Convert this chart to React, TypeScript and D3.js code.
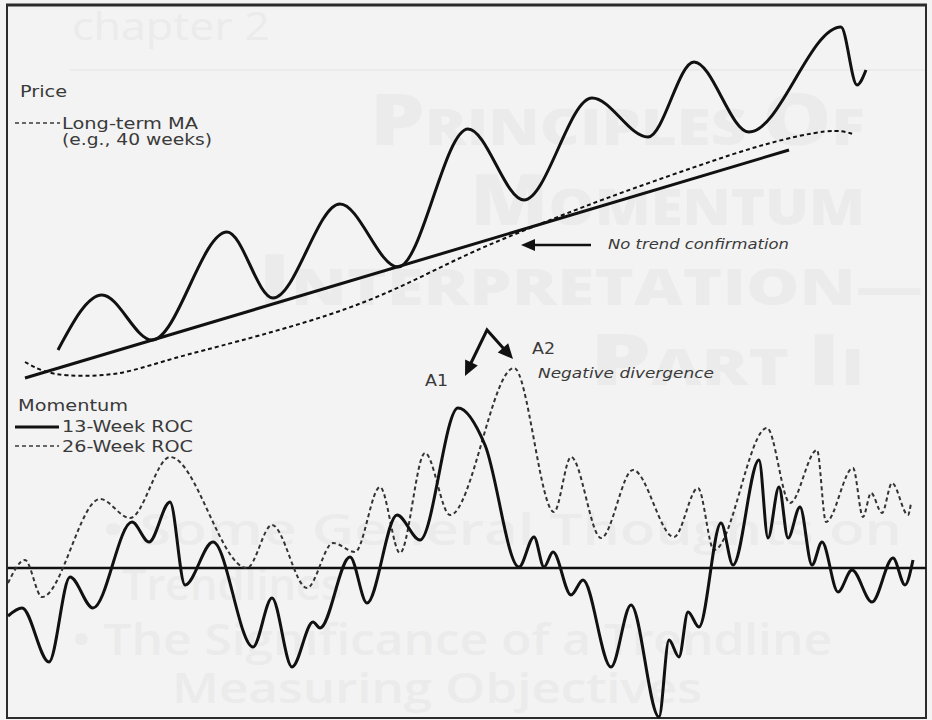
import React from "react";
import * as d3 from "d3";

// ---- Data (x in weeks, price in price units, momentum in % ROC) ----
const priceWeeks = [10, 18.8, 28.8, 43.8, 53, 66.4, 78, 92, 103.2, 116.8, 128, 137.2, 148.2, 166.6, 169.8, 171.6];
const priceValues = [12.5, 26.25, 15, 42, 25.5, 49, 33.25, 67.75, 50, 75.5, 65.75, 84.5, 67, 93.25, 78.75, 82.5];

const trendWeeks = [3.4, 156.2];
const trendValues = [5.5, 62.5];

const maWeeks = [3.4, 7, 11.8, 18.4, 24.4, 33, 45, 65, 78.4, 91.6, 104.4, 118.4, 138.4, 151.6, 165, 169];
const maValues = [9.5, 7, 6, 6, 7, 10.5, 14.25, 21.25, 28, 36.5, 43, 50, 58.75, 64.25, 68, 66.5];

const roc13Weeks = [0, 2.8, 8.2, 12.4, 17, 24.8, 28.2, 32.4, 35.4, 41, 49, 52.8, 56.8, 61, 62.4, 68.4, 71.8, 77.8, 82.4, 90, 95.4, 102.2, 105.2, 107.2, 109, 112.6, 115, 120.6, 124.6, 130.2, 132.2, 134.2, 136, 138.2, 142.6, 145, 150.2, 152, 154.2, 156, 158.4, 160.8, 162.8, 166, 168.8, 172.8, 177, 179.4, 181];
const roc13Values = [-9.6, -8, -18.8, -1.8, -8, 9.2, 5.2, 13.2, -3.4, 5.2, -15.8, -6, -19.8, -10.8, -12, 2.2, -7, 10.6, 5.6, 32, 24.6, 0.2, 6.2, 0.2, 3.2, -5.4, -2.4, -19.8, -7.4, -29.8, -14.4, -17.8, -8.8, -11.8, 9, 0.6, 21.6, 6, 16.2, 6, 12.2, 0.6, 5.2, -4.8, -0.4, -6.8, 2, -3.4, 1.6];

const roc26Weeks = [0, 3.4, 6.8, 18.4, 24.4, 32.4, 47.8, 52.8, 59.8, 65, 69.4, 74.4, 78.4, 83.4, 88.4, 101.2, 109.2, 112.6, 118.6, 125, 133.2, 138, 141.2, 151.8, 156.4, 161.8, 163.6, 169, 171, 172.6, 174.8, 176.8, 180, 180.6];
const roc26Values = [-3, 1.6, -5.8, 13.8, 10, 22.2, 0, 8.6, -4, 5, 3.2, 16.2, 3, 23, 10.6, 40, 11.2, 22.2, 6, 19.6, 6.2, 16, 3.6, 28, 13, 23.6, 9.2, 20, 10.2, 15, 11, 17, 10.6, 13];

const legendPrice = ["Price", "Long-term MA", "(e.g., 40 weeks)"];
const legendMomentum = ["Momentum", "13-Week ROC", "26-Week ROC"];

const W = 932;
const H = 720;

const zip = (xs: number[], ys: number[]) => xs.map((x, i) => [x, ys[i]] as [number, number]);

function arrowHead(tx: number, ty: number, fx: number, fy: number, len: number, hw: number) {
  const dx = tx - fx, dy = ty - fy;
  const d = Math.sqrt(dx * dx + dy * dy);
  const ux = dx / d, uy = dy / d;
  const bx = tx - ux * len, by = ty - uy * len;
  const px = -uy, py = ux;
  return `${tx},${ty} ${bx + px * hw},${by + py * hw} ${bx - px * hw},${by - py * hw}`;
}

function SmallCaps({ x, y, text, len }: { x: number; y: number; text: string; len: number }) {
  return (
    <text x={x} y={y} fontWeight={800} textLength={len} lengthAdjust="spacingAndGlyphs">
      {text.split(" ").map((w, i) => (
        <React.Fragment key={i}>
          {i > 0 ? <tspan fontSize={50}> </tspan> : null}
          <tspan fontSize={70}>{w[0]}</tspan>
          <tspan fontSize={50}>{w.slice(1)}</tspan>
        </React.Fragment>
      ))}
    </text>
  );
}

export default function App() {
  const x = d3.scaleLinear().domain([0, 184]).range([8, 928]);
  const yP = d3.scaleLinear().domain([0, 100]).range([400, 0]);
  const yM = d3.scaleLinear().domain([-30, 40]).range([718, 368]);

  const lineP = d3.line<[number, number]>().x(d => x(d[0])).y(d => yP(d[1])).curve(d3.curveMonotoneX);
  const lineMA = d3.line<[number, number]>().x(d => x(d[0])).y(d => yP(d[1])).curve(d3.curveBasis);
  const lineM = d3.line<[number, number]>().x(d => x(d[0])).y(d => yM(d[1])).curve(d3.curveMonotoneX);

  const ghost = "#ebebeb";
  const ink = "#111";
  const txt = "#3a3a3a";
  const font = "'DejaVu Sans', 'Liberation Sans', sans-serif";

  const zeroY = yM(0);

  return (
    <svg width={W} height={H} style={{ position: "absolute", left: 0, top: 0, background: "#f3f3f3" }}>
      <rect x={0} y={0} width={W} height={H} fill="#f3f3f3" />
      {/* faded bleed-through page text */}
      <g fill={ghost} fontFamily="'Open Sans', 'DejaVu Sans', sans-serif">
        <text x={72} y={40} fontSize={38} textLength={198} lengthAdjust="spacingAndGlyphs">chapter 2</text>
        <line x1={70} x2={925} y1={70} y2={70} stroke={ghost} strokeWidth={2} />
        <SmallCaps x={370} y={145} text="PRINCIPLES OF" len={495} />
        <SmallCaps x={470} y={225} text="MOMENTUM" len={395} />
        <SmallCaps x={258} y={305} text="INTERPRETATION—" len={665} />
        <SmallCaps x={590} y={385} text="PART II" len={275} />
        <text x={102} y={545} fontSize={44} fontWeight={600} textLength={800} lengthAdjust="spacingAndGlyphs">• Some General Thoughts on</text>
        <text x={122} y={600} fontSize={44} fontWeight={600} textLength={220} lengthAdjust="spacingAndGlyphs">Trendlines</text>
        <text x={72} y={655} fontSize={44} fontWeight={600} textLength={760} lengthAdjust="spacingAndGlyphs">• The Significance of a Trendline</text>
        <text x={172} y={703} fontSize={42} fontWeight={600} textLength={530} lengthAdjust="spacingAndGlyphs">Measuring Objectives</text>
      </g>

      {/* frame */}
      <rect x={7} y={5} width={919} height={713} fill="none" stroke="#2b2b2b" strokeWidth={2} />
      <line x1={6} x2={927} y1={5} y2={5} stroke="#2b2b2b" strokeWidth={3} />

      {/* price panel */}
      <path d={lineMA(zip(maWeeks, maValues)) || ""} fill="none" stroke={ink} strokeWidth={2} strokeDasharray="4,3" />
      <path d={lineP(zip(trendWeeks, trendValues)) || ""} fill="none" stroke={ink} strokeWidth={3} />
      <path d={lineP(zip(priceWeeks, priceValues)) || ""} fill="none" stroke={ink} strokeWidth={3} strokeLinejoin="round" />

      {/* momentum panel */}
      <line x1={8} x2={926} y1={zeroY} y2={zeroY} stroke={ink} strokeWidth={2.5} />
      <path d={lineM(zip(roc26Weeks, roc26Values)) || ""} fill="none" stroke="#333" strokeWidth={2} strokeDasharray="4,3" />
      <path d={lineM(zip(roc13Weeks, roc13Values)) || ""} fill="none" stroke={ink} strokeWidth={3} strokeLinejoin="round" />

      {/* legends */}
      <g fill={txt} fontFamily={font} fontSize={15}>
        <text x={20} y={97} textLength={47} lengthAdjust="spacingAndGlyphs">{legendPrice[0]}</text>
        <line x1={15} x2={60} y1={123} y2={123} stroke={txt} strokeWidth={1.6} strokeDasharray="4,3" />
        <text x={62} y={129} textLength={136} lengthAdjust="spacingAndGlyphs">{legendPrice[1]}</text>
        <text x={62} y={145} textLength={150} lengthAdjust="spacingAndGlyphs">{legendPrice[2]}</text>

        <text x={18} y={411} textLength={110} lengthAdjust="spacingAndGlyphs">{legendMomentum[0]}</text>
        <line x1={15} x2={59} y1={427} y2={427} stroke={ink} strokeWidth={3} />
        <text x={62} y={432} textLength={131} lengthAdjust="spacingAndGlyphs">{legendMomentum[1]}</text>
        <line x1={15} x2={59} y1={446} y2={446} stroke={txt} strokeWidth={1.6} strokeDasharray="4,3" />
        <text x={62} y={452} textLength={131} lengthAdjust="spacingAndGlyphs">{legendMomentum[2]}</text>
      </g>

      {/* annotations */}
      <g fill={txt} fontFamily={font}>
        <text x={608} y={249} fontSize={14} fontStyle="italic" textLength={181} lengthAdjust="spacingAndGlyphs">No trend confirmation</text>
        <text x={538} y={378} fontSize={14} fontStyle="italic" textLength={176} lengthAdjust="spacingAndGlyphs">Negative divergence</text>
        <text x={425} y={386} fontSize={15} textLength={23} lengthAdjust="spacingAndGlyphs">A1</text>
        <text x={532} y={354} fontSize={15} textLength={23} lengthAdjust="spacingAndGlyphs">A2</text>
      </g>
      <line x1={591} x2={532} y1={245} y2={245} stroke={ink} strokeWidth={2.5} />
      <polygon points={arrowHead(521, 245, 591, 245, 14, 6)} fill={ink} />

      <polyline points="470,365 487,330 504,349" fill="none" stroke={ink} strokeWidth={3} strokeLinejoin="miter" />
      <polygon points={arrowHead(465, 376, 487, 330, 15, 7)} fill={ink} />
      <polygon points={arrowHead(513, 359, 487, 330, 15, 7)} fill={ink} />
    </svg>
  );
}
